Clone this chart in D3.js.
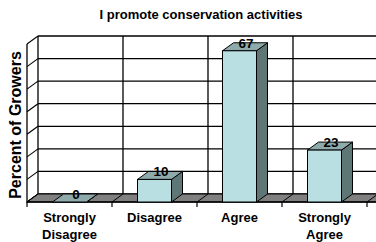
<!DOCTYPE html>
<html lang="en">
<head>
<meta charset="utf-8">
<title>I promote conservation activities</title>
<style>
body {
  margin: 0;
  background: #fff;
}
text {
  font-family: Arial, "Liberation Sans", sans-serif;
  font-weight: bold;
  fill: #000;
}
</style>
</head>
<body>
<div id="chart"></div>
<script src="https://cdn.jsdelivr.net/npm/d3@7"></script>
<script>

var categories = [["Strongly", "Disagree"], ["Disagree"], ["Agree"], ["Strongly", "Agree"]];
var values = [0, 10, 67, 23];
var yTicks = [0, 10, 20, 30, 40, 50, 60, 70];

var width = 376, height = 242;
var dx = 11, dy = 8; // depth offset of the 3d walls

var svg = d3.select("#chart").append("svg")
  .attr("width", width).attr("height", height);

// front plane scales
var x = d3.scaleBand()
  .domain(d3.range(values.length))
  .range([27, 367])
  .paddingInner(0.6)
  .paddingOuter(0.3);

var y = d3.scaleLinear().domain([0, 70]).range([202, 44]);

var left = 27;
var step = x.step();
var bounds = d3.range(values.length + 1).map(function(i) { return left + i * step; });

// back wall
svg.append("rect")
  .attr("x", left + dx).attr("y", y(70) - dy)
  .attr("width", width - left - dx + 5).attr("height", y(0) - y(70))
  .attr("fill", "#fff");

// horizontal gridlines on back wall + diagonals on left wall
svg.selectAll("line.grid").data(yTicks).enter().append("line")
  .attr("class", "grid")
  .attr("x1", left + dx).attr("x2", width + 5)
  .attr("y1", function(d) { return y(d) - dy; })
  .attr("y2", function(d) { return y(d) - dy; })
  .attr("stroke", "#000").attr("stroke-width", 1.3);

svg.selectAll("line.diag").data(yTicks).enter().append("line")
  .attr("class", "diag")
  .attr("x1", left).attr("x2", left + dx)
  .attr("y1", function(d) { return y(d); })
  .attr("y2", function(d) { return y(d) - dy; })
  .attr("stroke", "#000").attr("stroke-width", 1.1);

// vertical lines on back wall at category boundaries
svg.selectAll("line.vgrid").data(bounds.slice(0, 4)).enter().append("line")
  .attr("class", "vgrid")
  .attr("x1", function(d) { return d + dx; })
  .attr("x2", function(d) { return d + dx; })
  .attr("y1", y(70) - dy).attr("y2", y(0) - dy)
  .attr("stroke", "#000").attr("stroke-width", 1.3);

// left wall front edge
svg.append("line")
  .attr("x1", left).attr("x2", left)
  .attr("y1", y(70)).attr("y2", y(0) + 1)
  .attr("stroke", "#000").attr("stroke-width", 1.3);

// floor
svg.append("path")
  .attr("d", "M" + left + "," + y(0) + "L" + (width + 5) + "," + y(0) +
    "L" + (width + 5) + "," + (y(0) - dy) + "L" + (left + dx) + "," + (y(0) - dy) + "Z")
  .attr("fill", "#808080").attr("stroke", "#000").attr("stroke-width", 1);

svg.selectAll("line.fdiag").data(bounds).enter().append("line")
  .attr("class", "fdiag")
  .attr("x1", function(d) { return d; }).attr("x2", function(d) { return d + dx; })
  .attr("y1", y(0)).attr("y2", y(0) - dy)
  .attr("stroke", "#000").attr("stroke-width", 1);

// front axis line and ticks
svg.append("line")
  .attr("x1", left).attr("x2", width)
  .attr("y1", y(0)).attr("y2", y(0))
  .attr("stroke", "#000").attr("stroke-width", 1.5);

svg.selectAll("line.tick").data(bounds).enter().append("line")
  .attr("class", "tick")
  .attr("x1", function(d) { return d; }).attr("x2", function(d) { return d; })
  .attr("y1", y(0)).attr("y2", y(0) + 5)
  .attr("stroke", "#000").attr("stroke-width", 1.2);

// bars
var bars = svg.selectAll("g.bar").data(values).enter().append("g").attr("class", "bar");
var bw = x.bandwidth();

bars.append("path") // side
  .attr("d", function(d, i) {
    var x1 = x(i) + bw;
    return "M" + x1 + "," + y(0) + "L" + (x1 + dx) + "," + (y(0) - dy) +
      "L" + (x1 + dx) + "," + (y(d) - dy) + "L" + x1 + "," + y(d) + "Z";
  })
  .attr("fill", "#5f7676").attr("stroke", "#000").attr("stroke-width", 1);

bars.append("path") // top
  .attr("d", function(d, i) {
    var x0 = x(i), x1 = x(i) + bw;
    return "M" + x0 + "," + y(d) + "L" + x1 + "," + y(d) +
      "L" + (x1 + dx) + "," + (y(d) - dy) + "L" + (x0 + dx) + "," + (y(d) - dy) + "Z";
  })
  .attr("fill", "#8eaaab").attr("stroke", "#000").attr("stroke-width", 1);

bars.filter(function(d) { return d > 0; }).append("rect") // front
  .attr("x", function(d) { return x(values.indexOf(d)); })
  .attr("y", function(d) { return y(d); })
  .attr("width", bw)
  .attr("height", function(d) { return y(0) - y(d); })
  .attr("fill", "#b9dfe3").attr("stroke", "#000").attr("stroke-width", 1);

// value labels
svg.selectAll("text.val").data(values).enter().append("text")
  .attr("class", "val")
  .attr("x", function(d, i) { return x(i) + bw / 2 + dx / 2 + 1; })
  .attr("y", function(d) { return y(d) - dy + 5; })
  .attr("text-anchor", "middle")
  .style("font-size", "13.5px")
  .text(function(d) { return d; });

// category labels
var cat = svg.selectAll("text.cat").data(categories).enter().append("text")
  .attr("class", "cat")
  .attr("text-anchor", "middle")
  .style("font-size", "13px")
  .attr("transform", function(d, i) { return "translate(" + (x(i) + bw / 2) + ",222)"; });

cat.selectAll("tspan").data(function(d) { return d; }).enter().append("tspan")
  .attr("x", 0)
  .attr("dy", function(d, j) { return j === 0 ? 0 : 16.5; })
  .text(function(d) { return d; });

// title
svg.append("text")
  .attr("x", 201).attr("y", 19)
  .attr("text-anchor", "middle")
  .style("font-size", "13px")
  .text("I promote conservation activities");

// y axis label
svg.append("text")
  .attr("transform", "translate(21,125) rotate(-90)")
  .attr("text-anchor", "middle")
  .style("font-size", "16px")
  .text("Percent of Growers");

</script>
</body>
</html>
